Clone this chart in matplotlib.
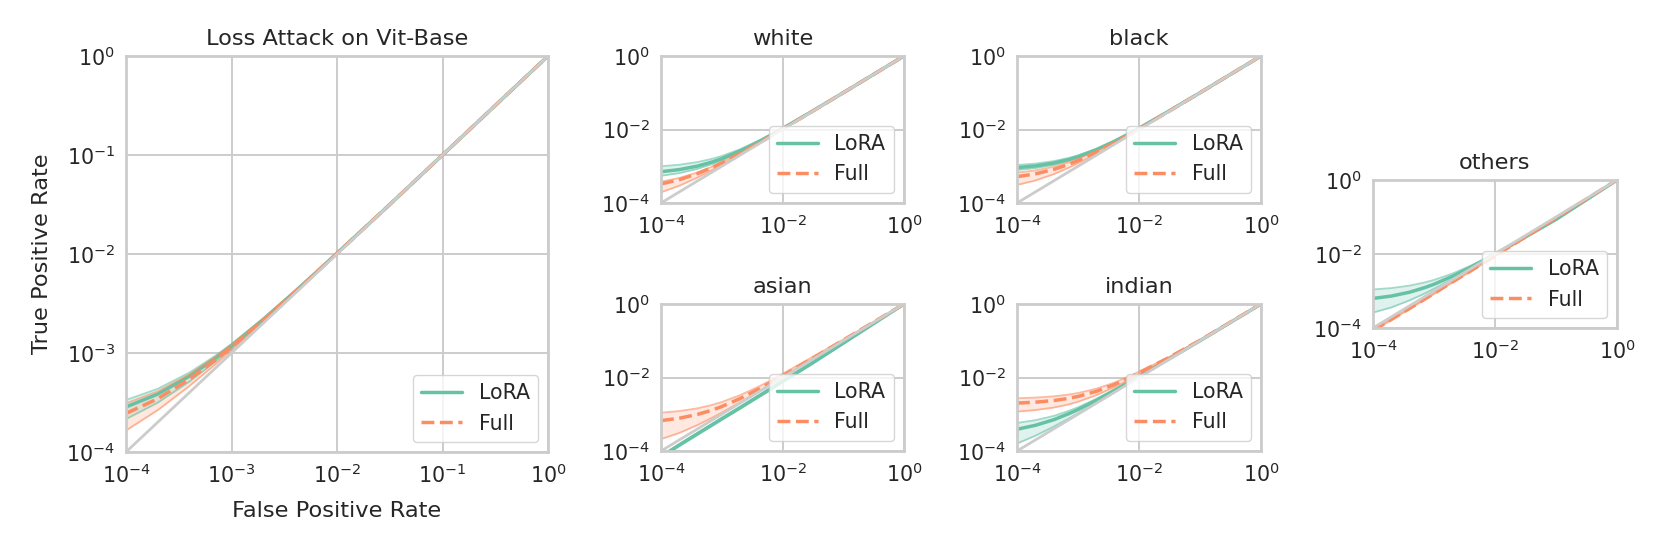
import matplotlib
matplotlib.use('Agg')
import matplotlib.pyplot as plt
import seaborn as sns

sns.set_theme(style='whitegrid')
plt.rcParams['font.family'] = ['DejaVu Sans']
plt.rcParams['axes.edgecolor'] = '#cccccc'
plt.rcParams['axes.linewidth'] = 2.0
plt.rcParams['grid.linewidth'] = 1.4
plt.rcParams['grid.color'] = '#cccccc'

green = '#66c2a5'
orange = '#fc8d62'

# 假阳性率取样点（所有子图共用）
fpr = [1e-4, 2e-4, 4e-4, 7e-4, 1e-3, 2e-3, 4e-3, 7e-3, 1e-2, 3e-2, 1e-1, 1.0]

# 主图 (Loss Attack on Vit-Base)
main_lora = [2.85e-4, 3.85e-4, 5.85e-4, 8.85e-4, 1.185e-3, 2.185e-3, 4.18e-3, 7.18e-3, 1.018e-2, 3.0e-2, 1.0e-1, 1.0]
main_lora_lo = [2.15e-4, 3.15e-4, 5.15e-4, 8.15e-4, 1.115e-3, 2.11e-3, 4.11e-3, 7.1e-3, 1.01e-2, 3.0e-2, 1.0e-1, 1.0]
main_lora_hi = [3.35e-4, 4.35e-4, 6.35e-4, 9.35e-4, 1.235e-3, 2.235e-3, 4.23e-3, 7.22e-3, 1.022e-2, 3.0e-2, 1.0e-1, 1.0]
main_full = [2.45e-4, 3.45e-4, 5.45e-4, 8.45e-4, 1.145e-3, 2.145e-3, 4.14e-3, 7.14e-3, 1.014e-2, 3.0e-2, 1.0e-1, 1.0]
main_full_lo = [1.65e-4, 2.65e-4, 4.65e-4, 7.65e-4, 1.065e-3, 2.065e-3, 4.06e-3, 7.06e-3, 1.006e-2, 3.0e-2, 1.0e-1, 1.0]
main_full_hi = [3.1e-4, 4.1e-4, 6.1e-4, 9.1e-4, 1.21e-3, 2.21e-3, 4.2e-3, 7.2e-3, 1.02e-2, 3.0e-2, 1.0e-1, 1.0]

# white
white_lora = [7.1e-4, 8.1e-4, 1.01e-3, 1.31e-3, 1.61e-3, 2.61e-3, 4.6e-3, 7.6e-3, 1.06e-2, 3.05e-2, 1.0e-1, 1.0]
white_lora_lo = [5.5e-4, 6.5e-4, 8.5e-4, 1.15e-3, 1.45e-3, 2.45e-3, 4.45e-3, 7.45e-3, 1.045e-2, 3.04e-2, 1.0e-1, 1.0]
white_lora_hi = [1.0e-3, 1.1e-3, 1.3e-3, 1.6e-3, 1.9e-3, 2.9e-3, 4.9e-3, 7.9e-3, 1.09e-2, 3.09e-2, 1.0e-1, 1.0]
white_full = [3.3e-4, 4.3e-4, 6.3e-4, 9.3e-4, 1.23e-3, 2.23e-3, 4.23e-3, 7.23e-3, 1.023e-2, 3.02e-2, 1.0e-1, 1.0]
white_full_lo = [1.95e-4, 2.95e-4, 4.95e-4, 7.95e-4, 1.095e-3, 2.095e-3, 4.1e-3, 7.1e-3, 1.01e-2, 3.0e-2, 1.0e-1, 1.0]
white_full_hi = [3.8e-4, 4.8e-4, 6.8e-4, 9.8e-4, 1.28e-3, 2.28e-3, 4.28e-3, 7.28e-3, 1.028e-2, 3.03e-2, 1.0e-1, 1.0]

# black
black_lora = [9.2e-4, 1.02e-3, 1.22e-3, 1.52e-3, 1.82e-3, 2.82e-3, 4.82e-3, 7.82e-3, 1.082e-2, 3.08e-2, 1.0e-1, 1.0]
black_lora_lo = [7.9e-4, 8.9e-4, 1.09e-3, 1.39e-3, 1.69e-3, 2.69e-3, 4.69e-3, 7.69e-3, 1.069e-2, 3.07e-2, 1.0e-1, 1.0]
black_lora_hi = [1.08e-3, 1.18e-3, 1.38e-3, 1.68e-3, 1.98e-3, 2.98e-3, 4.98e-3, 7.98e-3, 1.098e-2, 3.1e-2, 1.0e-1, 1.0]
black_full = [5.2e-4, 6.2e-4, 8.2e-4, 1.12e-3, 1.42e-3, 2.42e-3, 4.42e-3, 7.42e-3, 1.042e-2, 3.04e-2, 1.0e-1, 1.0]
black_full_lo = [3.1e-4, 4.1e-4, 6.1e-4, 9.1e-4, 1.21e-3, 2.21e-3, 4.21e-3, 7.21e-3, 1.021e-2, 3.02e-2, 1.0e-1, 1.0]
black_full_hi = [6.7e-4, 7.7e-4, 9.7e-4, 1.27e-3, 1.57e-3, 2.57e-3, 4.57e-3, 7.57e-3, 1.057e-2, 3.05e-2, 1.0e-1, 1.0]

# asian
asian_lora = [7.0e-5, 1.45e-4, 2.95e-4, 5.2e-4, 7.5e-4, 1.5e-3, 3.05e-3, 5.4e-3, 7.8e-3, 2.4e-2, 8.6e-2, 1.0]
asian_lora_lo = [6.5e-5, 1.35e-4, 2.75e-4, 4.85e-4, 7.0e-4, 1.4e-3, 2.85e-3, 5.0e-3, 7.3e-3, 2.25e-2, 8.2e-2, 1.0]
asian_lora_hi = [7.5e-5, 1.55e-4, 3.15e-4, 5.55e-4, 8.0e-4, 1.6e-3, 3.25e-3, 5.8e-3, 8.3e-3, 2.55e-2, 9.0e-2, 1.0]
asian_full = [6.7e-4, 7.8e-4, 9.9e-4, 1.3e-3, 1.62e-3, 2.67e-3, 4.8e-3, 7.9e-3, 1.11e-2, 3.2e-2, 1.04e-1, 1.0]
asian_full_lo = [2.1e-4, 3.1e-4, 5.1e-4, 8.1e-4, 1.11e-3, 2.12e-3, 4.1e-3, 7.2e-3, 1.02e-2, 3.05e-2, 1.01e-1, 1.0]
asian_full_hi = [1.1e-3, 1.22e-3, 1.45e-3, 1.8e-3, 2.15e-3, 3.3e-3, 5.6e-3, 9.0e-3, 1.25e-2, 3.5e-2, 1.08e-1, 1.0]

# indian
indian_lora = [3.9e-4, 5.0e-4, 7.1e-4, 1.03e-3, 1.34e-3, 2.4e-3, 4.5e-3, 7.6e-3, 1.08e-2, 3.1e-2, 1.0e-1, 1.0]
indian_lora_lo = [1.6e-4, 2.6e-4, 4.6e-4, 7.6e-4, 1.06e-3, 2.06e-3, 4.1e-3, 7.2e-3, 1.03e-2, 3.05e-2, 1.0e-1, 1.0]
indian_lora_hi = [5.8e-4, 6.9e-4, 9.0e-4, 1.23e-3, 1.55e-3, 2.63e-3, 4.8e-3, 8.0e-3, 1.13e-2, 3.2e-2, 1.0e-1, 1.0]
indian_full = [2.01e-3, 2.13e-3, 2.36e-3, 2.7e-3, 3.05e-3, 4.2e-3, 6.5e-3, 9.95e-3, 1.34e-2, 3.4e-2, 1.03e-1, 1.0]
indian_full_lo = [1.18e-3, 1.3e-3, 1.52e-3, 1.85e-3, 2.19e-3, 3.3e-3, 5.55e-3, 8.9e-3, 1.23e-2, 3.3e-2, 1.02e-1, 1.0]
indian_full_hi = [2.72e-3, 2.84e-3, 3.07e-3, 3.43e-3, 3.78e-3, 4.96e-3, 7.3e-3, 1.09e-2, 1.44e-2, 3.5e-2, 1.04e-1, 1.0]

# others
others_lora = [6.3e-4, 7.3e-4, 9.3e-4, 1.23e-3, 1.52e-3, 2.5e-3, 4.4e-3, 7.2e-3, 9.9e-3, 2.75e-2, 8.6e-2, 1.0]
others_lora_lo = [2.6e-4, 3.6e-4, 5.6e-4, 8.5e-4, 1.15e-3, 2.1e-3, 4.0e-3, 6.8e-3, 9.6e-3, 2.7e-2, 8.4e-2, 1.0]
others_lora_hi = [1.1e-3, 1.2e-3, 1.4e-3, 1.7e-3, 1.99e-3, 2.95e-3, 4.85e-3, 7.6e-3, 1.03e-2, 2.8e-2, 8.8e-2, 1.0]
others_full = [8.5e-5, 1.7e-4, 3.4e-4, 6.0e-4, 8.6e-4, 1.75e-3, 3.5e-3, 6.2e-3, 8.9e-3, 2.75e-2, 9.4e-2, 1.0]
others_full_lo = [8.2e-5, 1.65e-4, 3.3e-4, 5.8e-4, 8.3e-4, 1.7e-3, 3.4e-3, 6.0e-3, 8.6e-3, 2.68e-2, 9.2e-2, 1.0]
others_full_hi = [8.8e-5, 1.75e-4, 3.5e-4, 6.2e-4, 8.9e-4, 1.8e-3, 3.6e-3, 6.4e-3, 9.2e-3, 2.82e-2, 9.6e-2, 1.0]

tick_fs = 14.8
label_fs = 16.2


def draw(ax, lora, lora_lo, lora_hi, full, full_lo, full_hi, title, ticks):
    for mean, lo, hi, c, ls, name in [(lora, lora_lo, lora_hi, green, '-', 'LoRA'),
                                     (full, full_lo, full_hi, orange, '--', 'Full')]:
        ax.fill_between(fpr, lo, hi, color=c, alpha=0.2, linewidth=0)
        ax.plot(fpr, lo, color=c, alpha=0.6, lw=1.3)
        ax.plot(fpr, hi, color=c, alpha=0.6, lw=1.3)
        ax.plot(fpr, mean, color=c, ls=ls, lw=2.5, label=name)
    ax.plot([1e-4, 1], [1e-4, 1], color='#cccccc', lw=2.0, zorder=3)
    ax.set_xscale('log')
    ax.set_yscale('log')
    ax.set_xlim(1e-4, 1)
    ax.set_ylim(1e-4, 1)
    ax.set_xticks(ticks)
    ax.set_yticks(ticks)
    ax.minorticks_off()
    ax.tick_params(labelsize=tick_fs, length=0, pad=8)
    ax.set_title(title, fontsize=label_fs, pad=8)
    ax.legend(loc='lower right', fontsize=tick_fs, framealpha=0.8, edgecolor='#cccccc')


fig = plt.figure(figsize=(16.61, 5.54), dpi=100)
W, H = 1661, 554


def add(l, r, t, b):
    return fig.add_axes([l / W, 1 - b / H, (r - l) / W, (b - t) / H])


ax0 = add(126, 548, 56, 452)
draw(ax0, main_lora, main_lora_lo, main_lora_hi, main_full, main_full_lo, main_full_hi,
     'Loss Attack on Vit-Base', [1e-4, 1e-3, 1e-2, 1e-1, 1])
ax0.set_xlabel('False Positive Rate', fontsize=label_fs, labelpad=10)
ax0.set_ylabel('True Positive Rate', fontsize=label_fs, labelpad=10)

sub_ticks = [1e-4, 1e-2, 1]
draw(add(661, 904, 56, 203), white_lora, white_lora_lo, white_lora_hi,
     white_full, white_full_lo, white_full_hi, 'white', sub_ticks)
draw(add(1017, 1261, 56, 203), black_lora, black_lora_lo, black_lora_hi,
     black_full, black_full_lo, black_full_hi, 'black', sub_ticks)
draw(add(661, 904, 304, 451), asian_lora, asian_lora_lo, asian_lora_hi,
     asian_full, asian_full_lo, asian_full_hi, 'asian', sub_ticks)
draw(add(1017, 1261, 304, 451), indian_lora, indian_lora_lo, indian_lora_hi,
     indian_full, indian_full_lo, indian_full_hi, 'indian', sub_ticks)
draw(add(1373, 1617, 180, 328), others_lora, others_lora_lo, others_lora_hi,
     others_full, others_full_lo, others_full_hi, 'others', sub_ticks)

fig.savefig('out.png', dpi=100)
